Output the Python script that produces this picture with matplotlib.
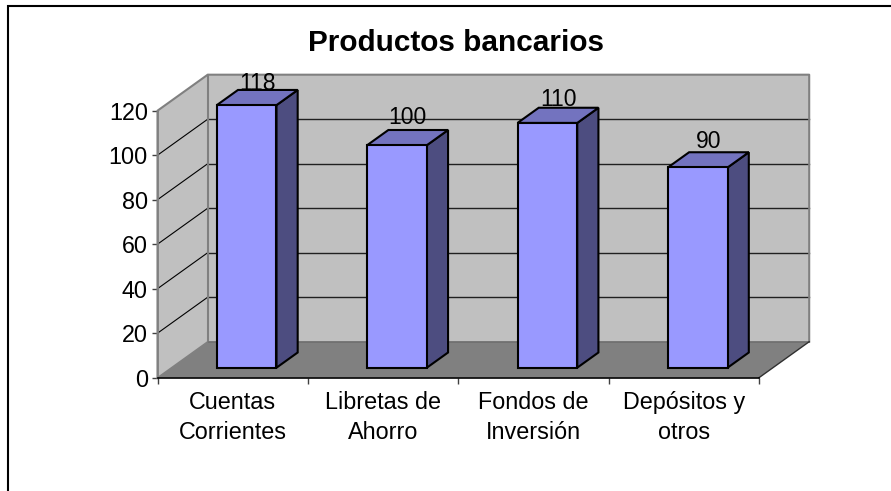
"""Productos bancarios: 3D-look column chart built on a flat axes."""

import matplotlib
matplotlib.use("Agg")
import matplotlib.pyplot as plt
from matplotlib.lines import Line2D

plt.rcParams["font.family"] = ["Liberation Sans", "DejaVu Sans"]

categories = ["Cuentas\nCorrientes", "Libretas de\nAhorro", "Fondos de\nInversión", "Depósitos y\notros"]
values = [118, 100, 110, 90]
y_ticks = [0, 20, 40, 60, 80, 100, 120]

W, H = 891, 491
PT = 72 / 100  # points per pixel at this dpi
# front plane of the plot, in pixels
LEFT, RIGHT, TOP, BOTTOM = 157.5, 759.0, 110.7, 377.7
# full depth of the box, in pixels
DEPTH_X, DEPTH_Y = 50.2, 36.0
# height of each value label's baseline above its column, in pixels
label_lift = [15, 21, 17, 19.4]

fig = plt.figure(figsize=(W / 100, H / 100), dpi=100, facecolor="white")
ax = fig.add_axes([LEFT / W, 1 - BOTTOM / H, (RIGHT - LEFT) / W, (BOTTOM - TOP) / H])
ax.set_xlim(0, len(values))
ax.set_ylim(0, 120)
ax.patch.set_visible(False)

slot_px = (RIGHT - LEFT) / len(values)
unit_px = (BOTTOM - TOP) / 120
dx = DEPTH_X / slot_px
dy = DEPTH_Y / unit_px


def add_poly(points, color, edge="none", lw=0.0, z=1):
    ax.add_patch(plt.Polygon(points, closed=True, facecolor=color, edgecolor=edge,
                             linewidth=lw, zorder=z, clip_on=False, joinstyle="miter"))


n = len(values)
wall_edge = "#808080"

# walls and floor
add_poly([(0, 0), (dx, dy), (dx, 120 + dy), (0, 120)], "#c0c0c0", z=1)
add_poly([(dx, dy), (n + dx, dy), (n + dx, 120 + dy), (dx, 120 + dy)], "#c0c0c0", z=1)
add_poly([(0, 0), (n, 0), (n + dx, dy), (dx, dy)], "#808080", z=1)

# gridlines on the two walls
for v in y_ticks[1:-1]:
    ax.plot([0, dx], [v, v + dy], color="black", lw=0.8, zorder=2, clip_on=False)
    ax.plot([dx, n + dx], [v + dy, v + dy], color="#202020", lw=1.0, zorder=2, clip_on=False)

# wall outlines
ax.plot([0, 0, dx, n + dx, n + dx], [0, 120, 120 + dy, 120 + dy, dy],
        color=wall_edge, lw=1.5, zorder=2, clip_on=False)
ax.plot([dx, dx], [dy, 120 + dy], color=wall_edge, lw=1.5, zorder=2, clip_on=False)
ax.plot([dx, n + dx], [dy, dy], color="#6e6e6e", lw=1.2, zorder=2, clip_on=False)
ax.plot([0, dx], [0, dy], color=wall_edge, lw=1.0, zorder=2, clip_on=False)
ax.plot([n, n + dx], [0, dy], color="#303030", lw=1.0, zorder=2, clip_on=False)

# columns sit between these fractions of the box depth
near, far = 0.278, 0.70
bar_w = 0.397
for i, val in enumerate(values):
    x0 = i + 0.5 - bar_w / 2 + near * dx
    x1 = x0 + bar_w
    y0 = near * dy
    y1 = y0 + val
    sx = (far - near) * dx
    sy = (far - near) * dy
    add_poly([(x1, y0), (x1 + sx, y0 + sy), (x1 + sx, y1 + sy), (x1, y1)],
             "#4d4d80", "black", 1.5, z=3)
    add_poly([(x0, y1), (x1, y1), (x1 + sx, y1 + sy), (x0 + sx, y1 + sy)],
             "#7373bf", "black", 1.5, z=3)
    ax.bar(x0, val, width=bar_w, bottom=y0, align="edge", color="#9999ff",
           edgecolor="black", linewidth=1.5, zorder=4, clip_on=False)
    ax.annotate(str(val), (x0 + bar_w / 2, y1), xytext=(10.8 * PT, label_lift[i] * PT),
                textcoords="offset points", ha="center", va="baseline", fontsize=16.5,
                zorder=5, color="black", annotation_clip=False)

# axes and tick labels
for side in ["top", "right"]:
    ax.spines[side].set_visible(False)
ax.spines["left"].set_color(wall_edge)
ax.spines["left"].set_linewidth(1.2)
ax.spines["bottom"].set_color("black")
ax.spines["bottom"].set_linewidth(1.2)
ax.spines["bottom"].set_zorder(2.5)

ax.set_yticks(y_ticks)
ax.set_xticks(range(n + 1))
ax.set_xticklabels([""] * (n + 1))
ax.tick_params(axis="both", length=4, width=1.0, color="#404040", labelsize=16.8, pad=3)
for i, label in enumerate(categories):
    ax.annotate(label, (i + 0.5, 0), xytext=(0, -9.5), textcoords="offset points",
                ha="center", va="top", fontsize=16.8, linespacing=1.42,
                annotation_clip=False)

fig.text(455.8 / W, 1 - 50.7 / H, "Productos bancarios", ha="center", va="baseline",
         fontsize=21.4, fontweight="bold")

# chart-area border: only top and left fall inside the image
fig.add_artist(Line2D([8.3 / W, 8.3 / W, 1.0], [0, 1 - 6.2 / H, 1 - 6.2 / H],
                      transform=fig.transFigure, color="black", linewidth=1.5,
                      solid_joinstyle="miter"))

fig.savefig("out.png", dpi=100)
